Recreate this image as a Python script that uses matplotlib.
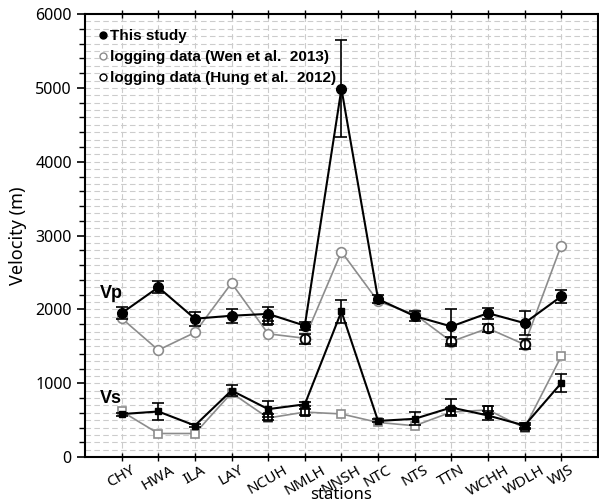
import numpy as np
import matplotlib
matplotlib.use("Agg")
import matplotlib.pyplot as plt
from matplotlib.ticker import MultipleLocator

stations = ["CHY", "HWA", "ILA", "LAY", "NCUH", "NMLH", "NNSH",
            "NTC", "NTS", "TTN", "WCHH", "WDLH", "WJS"]

# this study
vp_this = [1950, 2300, 1875, 1915, 1940, 1780, 4990, 2140, 1910, 1770, 1950, 1815, 2176]
vp_err = [85, 80, 95, 93, 90, 55, 660, 55, 65, 235, 75, 160, 90]
vs_this = [583, 618, 428, 902, 650, 715, 1973, 490, 519, 672, 564, 428, 1002]
vs_err = [20, 113, 20, 70, 110, 25, 160, 20, 90, 115, 60, 30, 125]

# Wen et al. 2013
vp_wen = [1880, 1450, 1688, 2357, 1670, 1610, 2782, 2110, 1935, 1565, 1745, 1525, 2865]
vs_wen = [620, 320, 320, 870, 530, 610, 585, 470, 425, 610, 640, 395, 1363]

# Hung et al. 2012 (only some stations)
hung_vp_st = ["NMLH", "TTN", "WCHH", "WDLH"]
hung_vp = [1600, 1567, 1748, 1531]
hung_vp_err = [70, 57, 60, 65]
hung_vp_sq_st = ["NCUH"]
hung_vp_sq = [1847]
hung_vp_sq_err = [45]
hung_vs_st = ["NCUH", "NMLH", "TTN", "WCHH", "WDLH"]
hung_vs = [540, 615, 620, 640, 410]
hung_vs_err = [40, 40, 50, 50, 30]

x = np.arange(1, len(stations) + 1)
pos = {s: i + 1 for i, s in enumerate(stations)}

fig = plt.figure(figsize=(5.99, 5.04), dpi=100)
ax = fig.add_axes([0.142, 0.093, 0.856, 0.879])

gray = "#8c8c8c"

# Wen et al. lines
ax.plot(x, vp_wen, color=gray, lw=1.2, marker="o", ms=7, mfc="white",
        mec=gray, mew=1.2, zorder=3)
ax.plot(x, vs_wen, color=gray, lw=1.2, marker="s", ms=5.5, mfc="white",
        mec=gray, mew=1.2, zorder=3)

# Hung et al. markers
ax.errorbar([pos[s] for s in hung_vp_st], hung_vp, yerr=hung_vp_err, fmt="o",
            ms=7, mfc="none", mec="black", mew=1.2, ecolor="black",
            elinewidth=1.2, capsize=4, capthick=1.2, zorder=4)
ax.errorbar([pos[s] for s in hung_vp_sq_st], hung_vp_sq, yerr=hung_vp_sq_err, fmt="s",
            ms=6, mfc="none", mec="black", mew=1.2, ecolor="black",
            elinewidth=1.2, capsize=4, capthick=1.2, zorder=4)
ax.errorbar([pos[s] for s in hung_vs_st], hung_vs, yerr=hung_vs_err, fmt="s",
            ms=6, mfc="none", mec="black", mew=1.2, ecolor="black",
            elinewidth=1.2, capsize=4, capthick=1.2, zorder=4)

# this study
ax.errorbar(x, vp_this, yerr=vp_err, fmt="-o", color="black", lw=1.5, ms=7,
            ecolor="black", elinewidth=1.2, capsize=4, capthick=1.2, zorder=5)
ax.errorbar(x, vs_this, yerr=vs_err, fmt="-s", color="black", lw=1.5, ms=5,
            ecolor="black", elinewidth=1.2, capsize=4, capthick=1.2, zorder=5)

ax.text(0.4, 2220, "Vp", fontsize=13, fontweight="bold", family="Liberation Sans",
        va="center", ha="left")
ax.text(0.4, 800, "Vs", fontsize=13, fontweight="bold", family="Liberation Sans",
        va="center", ha="left")

# legend
h1, = ax.plot([], [], "o", color="black", ms=5)
h2, = ax.plot([], [], "o", mfc="white", mec=gray, ms=5, mew=1)
h3, = ax.plot([], [], "o", mfc="white", mec="black", ms=5, mew=1)
ax.legend([h1, h2, h3], ["This study", "logging data (Wen et al.  2013)",
                         "logging data (Hung et al.  2012)"],
          loc="upper left", frameon=False, handlelength=0.4, handletextpad=0.2,
          labelspacing=0.45, borderaxespad=0.1, borderpad=0.9,
          prop={"family": "Liberation Sans", "weight": "bold", "size": 11})

ax.set_xlim(0, 14)
ax.set_ylim(0, 6000)
ax.set_xticks(x)
ax.set_xticklabels(stations, rotation=30, ha="center",
                   fontsize=11, family="Noto Sans")
ax.yaxis.set_major_locator(MultipleLocator(1000))
ax.yaxis.set_minor_locator(MultipleLocator(200))
for v in range(100, 6000, 100):
    ax.axhline(v, color="#cccccc", lw=0.8, ls=(0, (5, 3)), zorder=0)
for xi in x:
    ax.axvline(xi, color="#cccccc", lw=0.8, ls=(0, (5, 3)), zorder=0)
ax.tick_params(axis="y", which="major", length=6, width=1.2, labelsize=11.5)
ax.tick_params(axis="y", which="minor", length=4, width=1)
ax.tick_params(axis="x", direction="inout", length=6, top=True, width=1, pad=1)
for lab in ax.get_yticklabels():
    lab.set_family("Noto Sans")
for sp in ax.spines.values():
    sp.set_linewidth(1.5)
ax.set_xlabel("stations", fontsize=12, family="Noto Sans", va="bottom")
ax.xaxis.set_label_coords(0.5, -0.103)
ax.set_ylabel("Velocity (m)", fontsize=13, family="Noto Sans", labelpad=6)

fig.savefig("out.png", dpi=100)
